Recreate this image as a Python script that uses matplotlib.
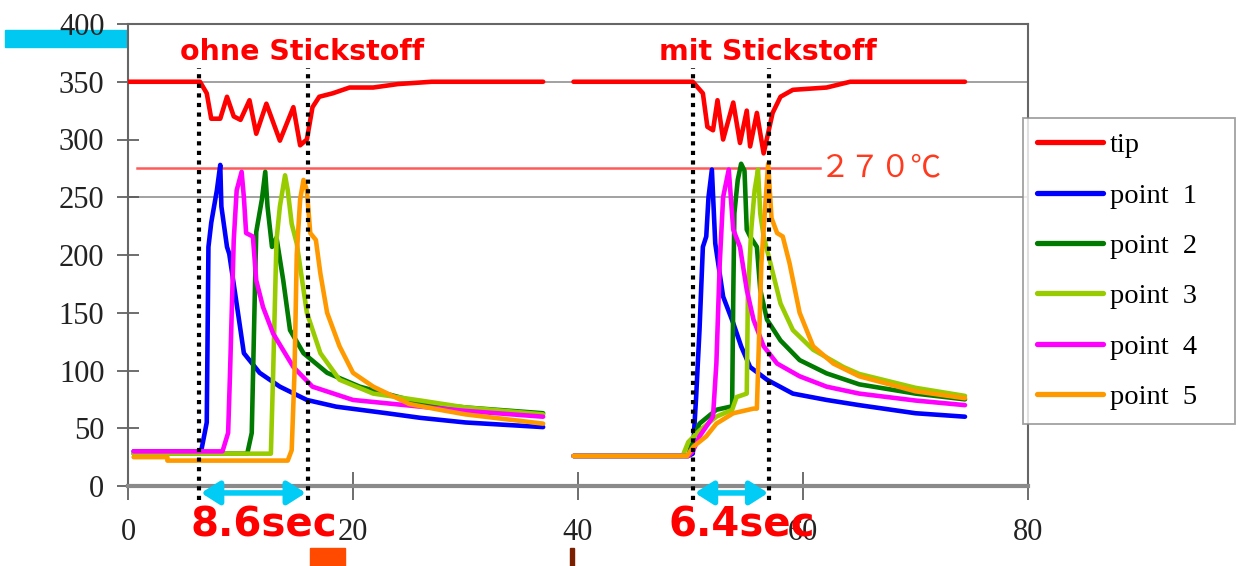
import matplotlib
matplotlib.use("Agg")
import matplotlib.pyplot as plt
from matplotlib.patches import Rectangle

# ---------------- data ----------------
series_labels = ["tip", "point  1", "point  2", "point  3", "point  4", "point  5"]
series_colors = ["#FF0000", "#0000FF", "#007A00", "#99CC00", "#FF00FF", "#FF9900"]

# run 1: ohne Stickstoff
tip_x1 = [0, 6.4, 7.0, 7.4, 8.2, 8.8, 9.4, 10.0, 10.8, 11.4, 12.3, 13.5, 14.7, 15.3, 15.9, 16.4, 17.0, 18.2, 19.7, 21.8, 24.0, 27.0, 36.9]
tip_y1 = [350, 350, 340, 318, 318, 337, 320, 317, 334, 305, 331, 299, 328, 295, 300, 328, 337, 340, 345, 345, 348, 350, 350]

p1_x1 = [0.5, 6.5, 7.0, 7.15, 7.4, 7.9, 8.2, 8.3, 8.8, 9.0, 9.7, 10.3, 11.7, 13.5, 15.9, 18.5, 23.0, 26.0, 30.0, 36.9]
p1_y1 = [30, 30, 55, 207, 228, 256, 278, 242, 207, 201, 155, 115, 98, 86, 74.5, 68.7, 63, 59, 55, 51]

p2_x1 = [0.5, 10.6, 11.0, 11.3, 11.4, 11.9, 12.2, 12.4, 12.8, 13.2, 13.8, 14.4, 15.6, 17.7, 20.6, 26.0, 30.0, 36.9]
p2_y1 = [28, 28, 46, 178, 220, 248, 272, 242, 207, 215, 178, 135, 115, 98, 86, 72, 68, 63]

p3_x1 = [0.5, 12.7, 12.9, 13.2, 13.5, 13.96, 14.2, 14.55, 15.0, 15.9, 17.1, 18.8, 21.8, 26.0, 30.0, 36.9]
p3_y1 = [28, 28, 97, 213, 242, 269, 256, 227, 210, 150, 115, 92, 80, 74, 68, 62]

p4_x1 = [0.5, 8.4, 8.9, 9.07, 9.4, 9.66, 10.1, 10.3, 10.5, 11.1, 11.4, 12.0, 12.9, 14.7, 16.4, 20.0, 26.0, 30.0, 36.9]
p4_y1 = [30, 30, 46, 98, 213, 256, 272, 250, 219, 216, 178, 155, 132, 103, 86, 74.5, 68.7, 65, 60]

p5_x1 = [0.5, 3.5, 3.5, 14.2, 14.55, 14.8, 15.0, 15.3, 15.6, 15.9, 16.2, 16.7, 17.1, 17.7, 18.8, 20.0, 21.8, 25.0, 27.7, 30.0, 36.9]
p5_y1 = [25, 25, 22, 22, 31, 98, 200, 248, 265, 256, 219, 213, 184, 150, 121, 98, 86, 71, 66, 62, 54]

# run 2: mit Stickstoff
tip_x2 = [39.6, 50.2, 51.1, 51.5, 52.0, 52.4, 52.9, 53.8, 54.4, 55.0, 55.3, 55.9, 56.5, 57.3, 58.0, 59.1, 62.1, 64.2, 74.4]
tip_y2 = [350, 350, 340, 311, 308, 334, 300, 332, 297, 325, 294, 323, 288, 323, 337, 343, 345, 350, 350]

p1_x2 = [39.6, 49.8, 50.2, 50.5, 50.8, 51.1, 51.4, 51.6, 51.9, 52.2, 52.9, 53.8, 54.5, 55.3, 56.8, 59.1, 62.1, 65.0, 70.0, 74.4]
p1_y2 = [26, 26, 28, 77, 135, 207, 216, 250, 274, 210, 164, 141, 121, 103, 92, 80, 74.5, 70, 63, 60]

p2_x2 = [39.6, 49.8, 50.2, 50.8, 52.3, 53.7, 53.8, 53.9, 54.2, 54.5, 54.8, 55.0, 55.3, 55.9, 56.2, 56.8, 58.0, 59.7, 62.1, 65.0, 70.0, 74.4]
p2_y2 = [26, 26, 40, 54, 66, 69, 164, 236, 265, 279, 273, 222, 216, 207, 170, 144, 126, 109, 97.5, 88, 80, 75]

p3_x2 = [39.6, 49.3, 49.8, 50.8, 52.3, 53.7, 54.1, 55.0, 55.1, 55.4, 55.7, 56.0, 56.2, 56.5, 57.1, 58.0, 59.1, 60.9, 63.6, 65.0, 70.0, 74.4]
p3_y2 = [26, 26, 38, 48, 60, 66, 77, 80, 164, 222, 256, 274, 236, 216, 193, 158, 135, 118, 103, 97, 85, 78]

p4_x2 = [39.6, 49.8, 50.2, 50.8, 52.0, 52.3, 52.6, 52.9, 53.4, 53.8, 54.4, 55.0, 55.6, 56.5, 57.7, 59.7, 62.1, 65.0, 70.0, 74.4]
p4_y2 = [26, 26, 30, 43, 60, 106, 193, 250, 274, 222, 207, 170, 144, 121, 106, 95, 86, 80, 74, 70]

p5_x2 = [39.6, 49.7, 50.25, 51.4, 52.3, 53.8, 55.6, 55.9, 56.3, 56.6, 56.9, 57.2, 57.7, 58.2, 58.8, 59.7, 60.9, 62.7, 65.0, 70.0, 74.4]
p5_y2 = [26, 26, 34, 43, 54, 63, 67, 67, 193, 236, 279, 232, 219, 216, 193, 150, 121, 106, 95, 82, 76]

x_ticks = [0, 20, 40, 60, 80]
y_ticks = [0, 50, 100, 150, 200, 250, 300, 350, 400]
grid_values = [250, 350]

threshold_value = 275
threshold_x = [0.8, 61.5]
threshold_label = "２７０℃"

marker_times = [6.3, 16.0, 50.2, 57.0]
duration_spans = [(6.5, 15.8), (50.4, 56.9)]
duration_labels = ["8.6sec", "6.4sec"]
run_titles = ["ohne Stickstoff", "mit Stickstoff"]
run_title_x = [15.5, 56.9]

# ---------------- figure ----------------
W, H = 1238, 566
fig = plt.figure(figsize=(W / 100, H / 100), dpi=100)
ax = fig.add_axes([128 / W, 80 / H, 900 / W, 462 / H])
ax.set_xlim(0, 80)
ax.set_ylim(0, 400)

serif = "Liberation Serif"

for v in grid_values:
    ax.axhline(v, color="#9A9A9A", lw=1.3, zorder=1)

ax.plot(threshold_x, [threshold_value] * 2, color="#FF5A5A", lw=1.8, zorder=2)
ax.text(threshold_x[1], threshold_value, threshold_label, color="#FF3B1F",
        fontsize=22, family=["Noto Sans CJK JP", "DejaVu Sans"], ha="left", va="center")

runs = [
    [(tip_x1, tip_y1), (p1_x1, p1_y1), (p2_x1, p2_y1), (p3_x1, p3_y1), (p4_x1, p4_y1), (p5_x1, p5_y1)],
    [(tip_x2, tip_y2), (p1_x2, p1_y2), (p2_x2, p2_y2), (p3_x2, p3_y2), (p4_x2, p4_y2), (p5_x2, p5_y2)],
]
handles = []
for i, (lab, col) in enumerate(zip(series_labels, series_colors)):
    for r, run in enumerate(runs):
        xs, ys = run[i]
        ln, = ax.plot(xs, ys, color=col, lw=3.3, solid_joinstyle="round",
                      solid_capstyle="round", zorder=3 + i * 0.1)
        if r == 0:
            handles.append(ln)

for t in marker_times:
    ax.plot([t, t], [-12, 362], color="black", lw=3, ls=(0, (1, 1.3)),
            clip_on=False, zorder=6)

for (a, b) in duration_spans:
    ax.annotate("", xy=(b, -6), xytext=(a, -6),
                arrowprops=dict(arrowstyle="<|-|>,head_length=0.55,head_width=0.35",
                                color="#00CCF5", lw=4, shrinkA=0, shrinkB=0,
                                mutation_scale=20),
                annotation_clip=False, zorder=7)

for (a, b), lab in zip(duration_spans, duration_labels):
    ax.text((a + b) / 2 + 0.9, -34, lab, color="#FF0000", fontsize=29,
            fontweight="bold", family="DejaVu Sans", ha="center", va="center",
            clip_on=False, zorder=10)

for xt, t in zip(run_title_x, run_titles):
    ax.text(xt, 376, t, color="#FF0000", fontsize=20.5, fontweight="bold",
            family="DejaVu Sans", ha="center", va="center", zorder=8)

ax.set_xticks(x_ticks)
ax.set_yticks(y_ticks)
ax.set_xticklabels([str(v) for v in x_ticks], family=serif)
ax.set_yticklabels([str(v) for v in y_ticks], family=serif)
ax.tick_params(axis="y", direction="inout", length=16, width=1.2, colors="#555555",
               labelcolor="#222222", labelsize=22, pad=9)
ax.tick_params(axis="x", direction="inout", length=20, width=1.2, colors="#555555",
               labelcolor="#222222", labelsize=22, pad=13)

for s in ["left", "top", "right"]:
    ax.spines[s].set_color("#666666")
    ax.spines[s].set_linewidth(1.5)
ax.spines["bottom"].set_color("#8A8A8A")
ax.spines["bottom"].set_linewidth(3)

leg = fig.legend(handles, series_labels, loc="upper left",
                 bbox_to_anchor=(1023 / W, (H - 420) / H, 212 / W, 302 / H),
                 mode="expand", borderaxespad=0, frameon=True, fancybox=False,
                 prop={"family": serif, "size": 20.5}, handlelength=2.3,
                 handletextpad=0.25, labelspacing=0.86, borderpad=0.5)
leg.get_frame().set_edgecolor("#8A8A8A")
leg.get_frame().set_linewidth(1.3)
for lh in leg.get_lines():
    lh.set_linewidth(3.8)

# decorative artifacts of the source image
fig.patches.append(Rectangle((5 / W, (H - 47) / H), 122 / W, 17 / H,
                             transform=fig.transFigure, color="#00C8F0", zorder=-1))
fig.patches.append(Rectangle((310 / W, 0), 35 / W, 18 / H,
                             transform=fig.transFigure, color="#FF4A00", zorder=-1))
fig.patches.append(Rectangle((570 / W, 0), 4 / W, 18 / H,
                             transform=fig.transFigure, color="#7A2000", zorder=-1))

fig.savefig("out.png", dpi=100)
